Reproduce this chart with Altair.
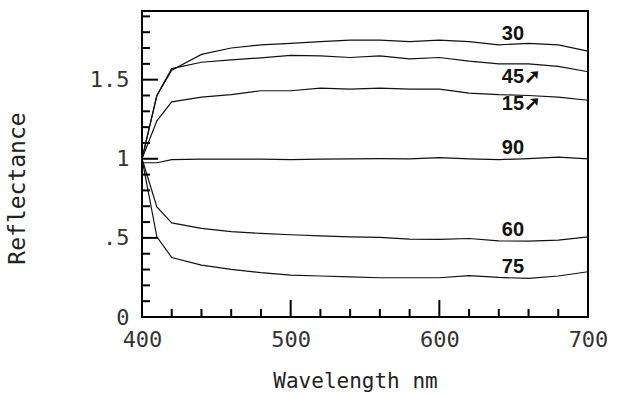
import altair as alt
import pandas as pd

wavelength = [400, 410, 420, 440, 460, 480, 500, 520, 540, 560, 580, 600, 620, 640, 660, 680, 700]
r30 = [1.0, 1.40, 1.56, 1.66, 1.70, 1.72, 1.73, 1.74, 1.75, 1.75, 1.74, 1.75, 1.74, 1.72, 1.73, 1.72, 1.68]
r45 = [1.0, 1.40, 1.57, 1.61, 1.625, 1.638, 1.653, 1.65, 1.64, 1.65, 1.632, 1.64, 1.617, 1.60, 1.60, 1.584, 1.55]
r15 = [1.0, 1.24, 1.36, 1.39, 1.405, 1.43, 1.43, 1.447, 1.44, 1.447, 1.44, 1.44, 1.415, 1.405, 1.40, 1.39, 1.37]
r90 = [0.975, 0.975, 0.995, 0.998, 0.998, 0.998, 0.995, 0.998, 1.0, 1.001, 1.0, 1.007, 1.0, 0.995, 1.001, 1.011, 1.0]
r60 = [1.0, 0.696, 0.595, 0.56, 0.54, 0.528, 0.52, 0.513, 0.507, 0.503, 0.492, 0.49, 0.496, 0.481, 0.479, 0.486, 0.507]
r75 = [1.0, 0.507, 0.376, 0.328, 0.301, 0.28, 0.265, 0.259, 0.254, 0.248, 0.248, 0.248, 0.261, 0.25, 0.244, 0.259, 0.286]

label_text = ["30", "45➚", "15➚", "90", "60", "75"]
label_x = [642, 642, 642, 642, 642, 642]
label_y = [1.79, 1.52, 1.344, 1.066, 0.549, 0.315]

x_minor = [420, 440, 460, 480, 520, 540, 560, 580, 620, 640, 660, 680]
x_major = [500, 600]
y_minor = [0.1, 0.2, 0.3, 0.4, 0.6, 0.7, 0.8, 0.9, 1.1, 1.2, 1.3, 1.4, 1.6, 1.7, 1.8, 1.9]
y_major = [0.5, 1.0, 1.5]

series = {"30": r30, "45": r45, "15": r15, "90": r90, "60": r60, "75": r75}
rows = []
for name, vals in series.items():
    for w, v in zip(wavelength, vals):
        rows.append({"wavelength": w, "reflectance": v, "angle": name})
df = pd.DataFrame(rows)

labels_df = pd.DataFrame({"x": label_x, "y": label_y, "text": label_text})

W, H = 446, 306
MONO = "DejaVu Sans Mono"

xscale = alt.Scale(domain=[400, 700], nice=False, zero=False)
yscale = alt.Scale(domain=[0, 1.934], nice=False, zero=False)

lines = alt.Chart(df).mark_line(color="#111", strokeWidth=1.2).encode(
    x=alt.X("wavelength:Q", scale=xscale,
            axis=alt.Axis(values=[400, 500, 600, 700], format="d", ticks=False, domain=False,
                          grid=False, labelFont=MONO, labelFontSize=22, labelColor="#333",
                          labelPadding=12, labelFlush=False, title="Wavelength nm",
                          titleFont=MONO, titleFontSize=21, titleFontWeight="normal",
                          titleColor="#222", titleX=213, titleY=70, titleBaseline="alphabetic",
                          titleAlign="center")),
    y=alt.Y("reflectance:Q", scale=yscale,
            axis=alt.Axis(values=[0, 0.5, 1.0, 1.5], format=".1~f",
                          labelExpr="datum.value == 0.5 ? '.5' : datum.label",
                          ticks=False, domain=False, grid=False, labelFont=MONO,
                          labelFontSize=22, labelColor="#333", labelPadding=13,
                          labelFlush=False, title="Reflectance", titleFont=MONO,
                          titleFontSize=23, titleFontWeight="normal", titleColor="#222",
                          titleX=-125, titleY=177, titleBaseline="middle",
                          titleAlign="center", titleAngle=270)),
    detail="angle:N",
)

xminor = alt.Chart(pd.DataFrame({"t": x_minor})).mark_rule(color="black", strokeWidth=2).encode(
    x=alt.X("t:Q", scale=xscale), y=alt.value(H), y2=alt.value(H - 8))
xmajor = alt.Chart(pd.DataFrame({"t": x_major})).mark_rule(color="black", strokeWidth=2).encode(
    x=alt.X("t:Q", scale=xscale), y=alt.value(H), y2=alt.value(H - 17))
yminor = alt.Chart(pd.DataFrame({"t": y_minor})).mark_rule(color="black", strokeWidth=2).encode(
    y=alt.Y("t:Q", scale=yscale), x=alt.value(0), x2=alt.value(8))
ymajor = alt.Chart(pd.DataFrame({"t": y_major})).mark_rule(color="black", strokeWidth=2).encode(
    y=alt.Y("t:Q", scale=yscale), x=alt.value(0), x2=alt.value(16))

texts = alt.Chart(labels_df).mark_text(
    font="Liberation Sans", fontSize=20, fontWeight="bold", align="left",
    baseline="middle", color="#111").encode(
    x=alt.X("x:Q", scale=xscale), y=alt.Y("y:Q", scale=yscale), text="text:N")

chart = alt.layer(lines, xminor, xmajor, yminor, ymajor, texts).properties(
    width=W, height=H,
    autosize=alt.AutoSizeParams(type="none"),
    padding={"left": 142, "top": 11, "right": 29, "bottom": 78},
    background="white",
).configure_view(stroke="black", strokeWidth=2)

chart.save("out.html", embed_options={"renderer": "svg", "actions": False})
